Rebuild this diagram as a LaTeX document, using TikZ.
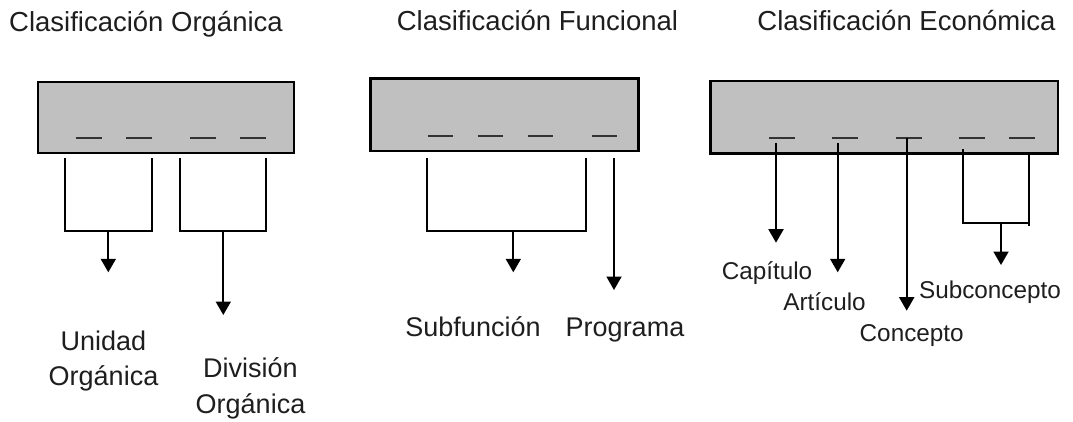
\documentclass[tikz,border=0pt]{standalone}
\usepackage{fontspec}
\setmainfont{Liberation Sans}
\usetikzlibrary{arrows.meta}
\definecolor{boxgray}{HTML}{C0C0C0}
\definecolor{ink}{HTML}{1E1E1E}
\definecolor{dashc}{HTML}{333333}
\begin{document}
\begin{tikzpicture}[x=1pt,y=-1pt,
  panel/.style={draw=black,line width=2.2pt,fill=boxgray,inner sep=0pt,anchor=north west},
  slot/.style={draw=dashc,line width=2.2pt},
  wire/.style={draw=black,line width=1.9pt},
  arr/.style={wire,-{Triangle[width=15pt,length=13.5pt]}},
  title/.style={font=\fontsize{27.5}{33}\selectfont,text=ink,anchor=base,inner sep=0pt},
  lab/.style={font=\fontsize{27}{35.5}\selectfont,text=ink,anchor=base,inner sep=0pt,align=center},
  labs/.style={font=\fontsize{24.3}{30}\selectfont,text=ink,anchor=base,inner sep=0pt}]
\useasboundingbox (0,0) rectangle (1073,421);

% titles
\node[title] (t1) at (146,31) {Clasificación Orgánica};
\node[title] (t2) at (537.5,30) {Clasificación Funcional};
\node[title] (t3) at (906.5,30) {Clasificación Económica};

% boxes
\node[panel,minimum width=256pt,minimum height=71pt] (box1) at (37,81) {};
\node[panel,minimum width=268pt,minimum height=72.7pt] (box2) at (369.3,77.3) {};
\node[panel,minimum width=347.4pt,minimum height=72.3pt] (box3) at (709.3,80) {};

% dashes
\foreach \a in {76,126,190,240} \draw[slot] (\a,137.7) -- ++(25.5,0);
\foreach \a in {427.7,477.7,528.3,592.3} \draw[slot] (\a,136) -- ++(25,0);
\foreach \a in {769.3,832.3,896,959.3,1009.3} \draw[slot] (\a,137.7) -- ++(25.5,0);

% ---- section 1
\coordinate (a1) at (65.3,158.3);  \coordinate (a2) at (152,158.3);
\coordinate (a1b) at (65.3,230.7); \coordinate (a2b) at (152,230.7);
\coordinate (am) at (108.3,230.7); \coordinate (at) at (108.3,272.3);
\draw[wire] (a1) -- (a1b) -- (a2b) -- (a2);
\draw[arr] (am) -- (at);

\coordinate (b1) at (180,158.3);  \coordinate (b2) at (266,158.3);
\coordinate (b1b) at (180,230.7); \coordinate (b2b) at (266,230.7);
\coordinate (bm) at (223.3,230.7); \coordinate (bt) at (223.3,315);
\draw[wire] (b1) -- (b1b) -- (b2b) -- (b2);
\draw[arr] (bm) -- (bt);

\node[lab] (unidad) at (103.5,385.5) {Unidad\\Orgánica};
\node[lab] (division) at (250.5,413) {División\\Orgánica};

% ---- section 2
\coordinate (c1) at (427.3,157.7);  \coordinate (c2) at (586,157.7);
\coordinate (c1b) at (427.3,230.7); \coordinate (c2b) at (586,230.7);
\coordinate (cm) at (513.3,230.7);  \coordinate (ct) at (513.3,272.3);
\draw[wire] (c1) -- (c1b) -- (c2b) -- (c2);
\draw[arr] (cm) -- (ct);
\coordinate (p0) at (614,157.7); \coordinate (pt) at (614,290);
\draw[arr] (p0) -- (pt);

\node[lab] (subf) at (473,336.7) {Subfunción};
\node[lab] (prog) at (625,336.7) {Programa};

% ---- section 3
\coordinate (e1) at (776,142.7);   \coordinate (e1t) at (776,242.7);
\coordinate (e2) at (837.7,142.7); \coordinate (e2t) at (837.7,272.3);
\coordinate (e3) at (906.7,137.7); \coordinate (e3t) at (906.7,310.7);
\draw[arr] (e1) -- (e1t);
\draw[arr] (e2) -- (e2t);
\draw[arr] (e3) -- (e3t);

\coordinate (s1) at (963.3,149.3);  \coordinate (s1b) at (963.3,223.3);
\coordinate (s2) at (1029.3,152.7); \coordinate (s2b) at (1029.3,223.3);
\coordinate (s2e) at (1029.3,225.5);
\coordinate (sm) at (1001,223.3);   \coordinate (st) at (1001,265);
\draw[wire] (s1) -- (s1b) -- (s2b);
\draw[wire] (s2) -- (s2e);
\draw[arr] (sm) -- (st);

\node[labs] (capitulo) at (767,279) {Capítulo};
\node[labs] (articulo) at (824.5,310) {Artículo};
\node[labs] (concepto) at (911.7,341.7) {Concepto};
\node[labs] (subconcepto) at (990,298.3) {Subconcepto};
\end{tikzpicture}
\end{document}
